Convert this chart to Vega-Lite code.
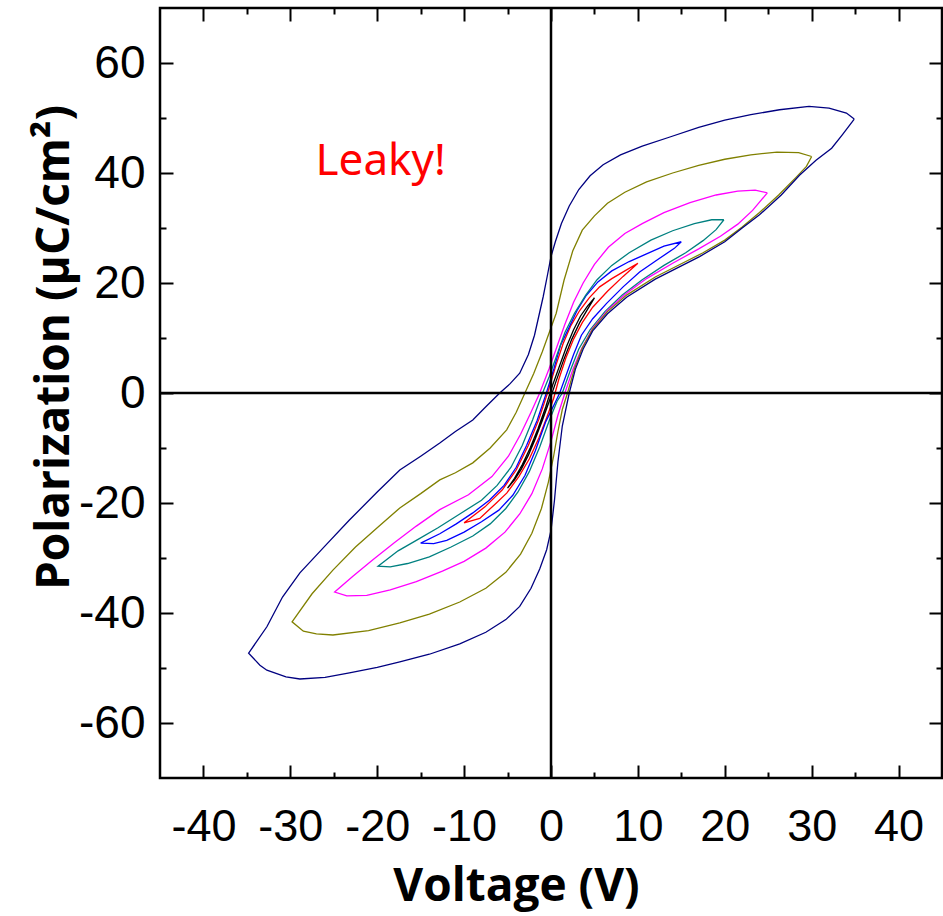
{
  "$schema": "https://vega.github.io/schema/vega-lite/v6.json",
  "width": 782,
  "height": 770,
  "autosize": "none",
  "padding": {"left": 160, "top": 8, "right": 1, "bottom": 138},
  "background": "white",
  "config": {
    "view": {"stroke": "black", "strokeWidth": 2.5},
    "axis": {"domain": false, "grid": false, "ticks": true, "tickColor": "black", "tickWidth": 2, "labelColor": "black", "titleColor": "black", "labelOverlap": false, "labelFlush": false, "labelBound": false}
  },
  "layer": [
    {
      "data": {"values": [
        {"s":"k","v":5,"p":17.3},{"s":"k","v":4.2,"p":15.8},{"s":"k","v":3.4,"p":14},{"s":"k","v":2.6,"p":11.5},{"s":"k","v":1.8,"p":8.5},{"s":"k","v":1,"p":5},{"s":"k","v":0.2,"p":1.5},{"s":"k","v":-0.6,"p":-2.5},{"s":"k","v":-1.5,"p":-6.5},{"s":"k","v":-2.4,"p":-10},{"s":"k","v":-3.3,"p":-13},{"s":"k","v":-4.2,"p":-15.5},{"s":"k","v":-5,"p":-17.3},{"s":"k","v":-4.2,"p":-15.8},{"s":"k","v":-3.4,"p":-13.8},{"s":"k","v":-2.6,"p":-11.3},{"s":"k","v":-1.8,"p":-8.3},{"s":"k","v":-1,"p":-5},{"s":"k","v":-0.2,"p":-1.5},{"s":"k","v":0.6,"p":2.2},{"s":"k","v":1.5,"p":6.2},{"s":"k","v":2.4,"p":9.8},{"s":"k","v":3.3,"p":12.8},{"s":"k","v":4.2,"p":15.2},{"s":"k","v":5,"p":17.3},
        {"s":"r","v":10,"p":23.6},{"s":"r","v":8.5,"p":22.2},{"s":"r","v":7,"p":20.8},{"s":"r","v":5.6,"p":19.3},{"s":"r","v":4.4,"p":17.3},{"s":"r","v":3.3,"p":15},{"s":"r","v":2.3,"p":12.3},{"s":"r","v":1.4,"p":9},{"s":"r","v":0.6,"p":5.2},{"s":"r","v":-0.4,"p":0},{"s":"r","v":-1.4,"p":-4.8},{"s":"r","v":-2.6,"p":-9.5},{"s":"r","v":-4,"p":-14},{"s":"r","v":-5.6,"p":-17.6},{"s":"r","v":-7.6,"p":-20.7},{"s":"r","v":-10,"p":-23.6},{"s":"r","v":-8.2,"p":-22.8},{"s":"r","v":-6.5,"p":-20.3},{"s":"r","v":-5.1,"p":-18.2},{"s":"r","v":-3.7,"p":-15.2},{"s":"r","v":-2.5,"p":-12},{"s":"r","v":-1.4,"p":-8.2},{"s":"r","v":-0.5,"p":-4.5},{"s":"r","v":0.3,"p":-1},{"s":"r","v":0.9,"p":2.5},{"s":"r","v":1.7,"p":6.3},{"s":"r","v":2.6,"p":9.8},{"s":"r","v":3.6,"p":12.8},{"s":"r","v":4.8,"p":15.6},{"s":"r","v":6.5,"p":18.5},{"s":"r","v":8.3,"p":21.2},{"s":"r","v":10,"p":23.6},
        {"s":"b","v":15,"p":27.5},{"s":"b","v":13,"p":26.7},{"s":"b","v":11,"p":25.3},{"s":"b","v":9,"p":23.9},{"s":"b","v":7,"p":22.2},{"s":"b","v":5.4,"p":20.2},{"s":"b","v":4,"p":17.6},{"s":"b","v":3,"p":15},{"s":"b","v":2.1,"p":12},{"s":"b","v":1.1,"p":8.7},{"s":"b","v":0.35,"p":4.5},{"s":"b","v":-0.6,"p":-0.3},{"s":"b","v":-1.6,"p":-5},{"s":"b","v":-2.8,"p":-9.5},{"s":"b","v":-4,"p":-13.5},{"s":"b","v":-5.4,"p":-16.8},{"s":"b","v":-7.1,"p":-19.5},{"s":"b","v":-9,"p":-21.8},{"s":"b","v":-10.9,"p":-23.8},{"s":"b","v":-12.8,"p":-25.6},{"s":"b","v":-15,"p":-27.3},{"s":"b","v":-13.5,"p":-27.4},{"s":"b","v":-12,"p":-26.8},{"s":"b","v":-10,"p":-25.3},{"s":"b","v":-8,"p":-23.4},{"s":"b","v":-6,"p":-21.3},{"s":"b","v":-4.4,"p":-18.6},{"s":"b","v":-3,"p":-15},{"s":"b","v":-1.8,"p":-10.5},{"s":"b","v":-0.6,"p":-5.2},{"s":"b","v":0.4,"p":-2},{"s":"b","v":1,"p":0},{"s":"b","v":1.8,"p":3.5},{"s":"b","v":2.6,"p":7},{"s":"b","v":3.5,"p":10.5},{"s":"b","v":4.8,"p":13.5},{"s":"b","v":6.4,"p":16.3},{"s":"b","v":8.3,"p":19.3},{"s":"b","v":10.2,"p":22},{"s":"b","v":12.5,"p":24.5},{"s":"b","v":14.2,"p":26.3},{"s":"b","v":15,"p":27.5},
        {"s":"t","v":19.9,"p":31.5},{"s":"t","v":18.5,"p":31.5},{"s":"t","v":16.5,"p":30.8},{"s":"t","v":14,"p":29.5},{"s":"t","v":11.5,"p":27.8},{"s":"t","v":9,"p":25.5},{"s":"t","v":7,"p":23.2},{"s":"t","v":5.3,"p":20.6},{"s":"t","v":4,"p":17.8},{"s":"t","v":2.7,"p":14.5},{"s":"t","v":1.6,"p":11},{"s":"t","v":0.7,"p":7},{"s":"t","v":-0.2,"p":3},{"s":"t","v":-1.1,"p":-0.5},{"s":"t","v":-2.1,"p":-4.8},{"s":"t","v":-3.3,"p":-9.5},{"s":"t","v":-4.6,"p":-13.5},{"s":"t","v":-6.2,"p":-16.8},{"s":"t","v":-8,"p":-19.5},{"s":"t","v":-10.5,"p":-22},{"s":"t","v":-13,"p":-24.5},{"s":"t","v":-15.5,"p":-26.8},{"s":"t","v":-17.6,"p":-28.7},{"s":"t","v":-19.9,"p":-31.5},{"s":"t","v":-18.5,"p":-31.6},{"s":"t","v":-16.5,"p":-31},{"s":"t","v":-14,"p":-29.8},{"s":"t","v":-11.5,"p":-28},{"s":"t","v":-9,"p":-26},{"s":"t","v":-7,"p":-23.8},{"s":"t","v":-5.2,"p":-21},{"s":"t","v":-3.8,"p":-18},{"s":"t","v":-2.5,"p":-14.3},{"s":"t","v":-1.3,"p":-9.8},{"s":"t","v":-0.2,"p":-5},{"s":"t","v":0.7,"p":-1.5},{"s":"t","v":1.3,"p":0},{"s":"t","v":2.2,"p":4},{"s":"t","v":3.2,"p":8},{"s":"t","v":4.5,"p":11.5},{"s":"t","v":6.2,"p":14.8},{"s":"t","v":8.2,"p":17.8},{"s":"t","v":10.5,"p":20.6},{"s":"t","v":13,"p":23.2},{"s":"t","v":15.5,"p":25.5},{"s":"t","v":17.5,"p":27.7},{"s":"t","v":19,"p":29.7},{"s":"t","v":19.9,"p":31.5},
        {"s":"m","v":24.9,"p":36.4},{"s":"m","v":23.5,"p":36.9},{"s":"m","v":21.5,"p":36.7},{"s":"m","v":19,"p":36},{"s":"m","v":16,"p":34.6},{"s":"m","v":13,"p":32.8},{"s":"m","v":10.5,"p":30.8},{"s":"m","v":8.5,"p":29},{"s":"m","v":6.6,"p":26.5},{"s":"m","v":5,"p":23.4},{"s":"m","v":3.7,"p":20},{"s":"m","v":2.6,"p":16.5},{"s":"m","v":1.6,"p":12.5},{"s":"m","v":0.7,"p":8.5},{"s":"m","v":-0.2,"p":4.5},{"s":"m","v":-1.3,"p":0},{"s":"m","v":-2.3,"p":-3.5},{"s":"m","v":-3.5,"p":-7.5},{"s":"m","v":-4.9,"p":-11.5},{"s":"m","v":-6.8,"p":-15.2},{"s":"m","v":-9.5,"p":-18.5},{"s":"m","v":-12.8,"p":-21.2},{"s":"m","v":-15.5,"p":-24.2},{"s":"m","v":-18,"p":-27.2},{"s":"m","v":-20.5,"p":-30.3},{"s":"m","v":-22.8,"p":-33.3},{"s":"m","v":-24.9,"p":-36.2},{"s":"m","v":-23.5,"p":-36.9},{"s":"m","v":-21.2,"p":-36.8},{"s":"m","v":-18.5,"p":-35.8},{"s":"m","v":-15.5,"p":-34.3},{"s":"m","v":-12.5,"p":-32.4},{"s":"m","v":-10,"p":-30.6},{"s":"m","v":-7.5,"p":-28.2},{"s":"m","v":-5.3,"p":-25.3},{"s":"m","v":-3.6,"p":-22},{"s":"m","v":-2.2,"p":-18.3},{"s":"m","v":-1,"p":-13.8},{"s":"m","v":0,"p":-8.8},{"s":"m","v":0.8,"p":-4},{"s":"m","v":1.6,"p":0},{"s":"m","v":2.5,"p":4.2},{"s":"m","v":3.5,"p":8},{"s":"m","v":4.8,"p":11.8},{"s":"m","v":6.5,"p":15},{"s":"m","v":8.5,"p":17.9},{"s":"m","v":11,"p":20.8},{"s":"m","v":14,"p":23.6},{"s":"m","v":17,"p":26.2},{"s":"m","v":19.5,"p":28.5},{"s":"m","v":21.5,"p":30.7},{"s":"m","v":23.2,"p":33.2},{"s":"m","v":24.9,"p":36.4},
        {"s":"o","v":30,"p":43},{"s":"o","v":28.5,"p":43.7},{"s":"o","v":26,"p":43.8},{"s":"o","v":23,"p":43.3},{"s":"o","v":20,"p":42.5},{"s":"o","v":17,"p":41.4},{"s":"o","v":14,"p":40},{"s":"o","v":11,"p":38.4},{"s":"o","v":8.5,"p":36.5},{"s":"o","v":6.5,"p":34.5},{"s":"o","v":5,"p":32.2},{"s":"o","v":3.6,"p":29.6},{"s":"o","v":2.5,"p":25.8},{"s":"o","v":1.5,"p":20.5},{"s":"o","v":0.6,"p":14.5},{"s":"o","v":-0.2,"p":11},{"s":"o","v":-1,"p":7.5},{"s":"o","v":-2,"p":3.5},{"s":"o","v":-3,"p":0},{"s":"o","v":-4,"p":-3.5},{"s":"o","v":-5.1,"p":-6.7},{"s":"o","v":-7,"p":-10},{"s":"o","v":-9,"p":-12.7},{"s":"o","v":-11,"p":-14.5},{"s":"o","v":-12.8,"p":-15.8},{"s":"o","v":-15,"p":-18.3},{"s":"o","v":-17.4,"p":-20.9},{"s":"o","v":-20,"p":-24.5},{"s":"o","v":-22.5,"p":-28},{"s":"o","v":-25.1,"p":-32.2},{"s":"o","v":-27.5,"p":-36.5},{"s":"o","v":-29.8,"p":-41.6},{"s":"o","v":-28.5,"p":-43.3},{"s":"o","v":-27,"p":-43.8},{"s":"o","v":-25.1,"p":-44},{"s":"o","v":-21,"p":-43.2},{"s":"o","v":-17.4,"p":-41.8},{"s":"o","v":-14,"p":-40.2},{"s":"o","v":-10.5,"p":-38},{"s":"o","v":-7.5,"p":-35.5},{"s":"o","v":-5.2,"p":-32.6},{"s":"o","v":-3.5,"p":-29.3},{"s":"o","v":-2.2,"p":-25.5},{"s":"o","v":-1.1,"p":-21},{"s":"o","v":-0.3,"p":-16.2},{"s":"o","v":0.3,"p":-11.5},{"s":"o","v":0.8,"p":-7},{"s":"o","v":1.3,"p":-3},{"s":"o","v":1.9,"p":0},{"s":"o","v":2.7,"p":4.4},{"s":"o","v":3.6,"p":8.2},{"s":"o","v":4.8,"p":11.6},{"s":"o","v":6.5,"p":14.8},{"s":"o","v":8.7,"p":17.8},{"s":"o","v":12,"p":21.1},{"s":"o","v":15,"p":23.5},{"s":"o","v":17.5,"p":25.5},{"s":"o","v":20,"p":27.8},{"s":"o","v":22,"p":30.2},{"s":"o","v":24,"p":32.8},{"s":"o","v":26.2,"p":36},{"s":"o","v":28.2,"p":39.2},{"s":"o","v":29.4,"p":41.2},{"s":"o","v":30,"p":43},
        {"s":"n","v":34.9,"p":49.8},{"s":"n","v":34,"p":50.9},{"s":"n","v":32,"p":51.8},{"s":"n","v":29.7,"p":52.1},{"s":"n","v":26.3,"p":51.5},{"s":"n","v":23,"p":50.6},{"s":"n","v":20,"p":49.6},{"s":"n","v":17,"p":48.3},{"s":"n","v":13.6,"p":46.5},{"s":"n","v":10.5,"p":44.9},{"s":"n","v":8,"p":43.3},{"s":"n","v":6,"p":41.5},{"s":"n","v":4.5,"p":39.5},{"s":"n","v":3.2,"p":37},{"s":"n","v":2.1,"p":34},{"s":"n","v":1.2,"p":30.8},{"s":"n","v":0.5,"p":27.5},{"s":"n","v":0,"p":24.8},{"s":"n","v":-0.4,"p":21.5},{"s":"n","v":-0.9,"p":17.5},{"s":"n","v":-1.4,"p":14},{"s":"n","v":-1.9,"p":10.5},{"s":"n","v":-2.6,"p":7},{"s":"n","v":-3.6,"p":3.6},{"s":"n","v":-4.7,"p":1.7},{"s":"n","v":-5.9,"p":0},{"s":"n","v":-7.5,"p":-2.5},{"s":"n","v":-9,"p":-4.9},{"s":"n","v":-11,"p":-7},{"s":"n","v":-12.8,"p":-9.1},{"s":"n","v":-15,"p":-11.5},{"s":"n","v":-17.4,"p":-14},{"s":"n","v":-20,"p":-18},{"s":"n","v":-23.2,"p":-23.1},{"s":"n","v":-26,"p":-27.8},{"s":"n","v":-28.9,"p":-32.7},{"s":"n","v":-30.9,"p":-37.1},{"s":"n","v":-32.7,"p":-42.5},{"s":"n","v":-34.8,"p":-47.3},{"s":"n","v":-33.5,"p":-49.5},{"s":"n","v":-32.7,"p":-50.4},{"s":"n","v":-30.5,"p":-51.6},{"s":"n","v":-28.9,"p":-52},{"s":"n","v":-26,"p":-51.7},{"s":"n","v":-23.2,"p":-50.9},{"s":"n","v":-20,"p":-49.9},{"s":"n","v":-17.4,"p":-48.9},{"s":"n","v":-14,"p":-47.5},{"s":"n","v":-10.5,"p":-45.6},{"s":"n","v":-7.5,"p":-43.5},{"s":"n","v":-5.2,"p":-41.2},{"s":"n","v":-3.6,"p":-38.8},{"s":"n","v":-2.3,"p":-35.5},{"s":"n","v":-1.3,"p":-32},{"s":"n","v":-0.5,"p":-28.5},{"s":"n","v":0,"p":-25},{"s":"n","v":0.4,"p":-19.5},{"s":"n","v":0.8,"p":-12.5},{"s":"n","v":1.3,"p":-6},{"s":"n","v":2.1,"p":0},{"s":"n","v":2.8,"p":4.3},{"s":"n","v":3.7,"p":8},{"s":"n","v":4.8,"p":11.3},{"s":"n","v":6.5,"p":14.4},{"s":"n","v":8.7,"p":17.4},{"s":"n","v":12,"p":20.7},{"s":"n","v":15,"p":23.1},{"s":"n","v":17.1,"p":24.8},{"s":"n","v":20,"p":27.5},{"s":"n","v":22,"p":30},{"s":"n","v":24,"p":32.4},{"s":"n","v":26.5,"p":36},{"s":"n","v":28.6,"p":39.6},{"s":"n","v":30.5,"p":42.3},{"s":"n","v":32.3,"p":44.5},{"s":"n","v":33.5,"p":46.9},{"s":"n","v":34.9,"p":49.8}
      ]},
      "transform": [{"window": [{"op": "row_number", "as": "i"}]}],
      "mark": {"type": "line", "strokeWidth": 1.3},
      "encoding": {
        "x": {"field": "v", "type": "quantitative",
          "scale": {"domain": [-45, 45], "nice": false, "zero": false},
          "axis": {"orient": "bottom", "values": [-40,-30,-20,-10,0,10,20,30,40], "tickSize": -13,
            "labelExpr": "'' + datum.value",
            "labelFont": "Liberation Sans, Arial, sans-serif", "labelFontSize": 45, "labelPadding": 39,
            "title": "Voltage (V)", "titleFont": "Open Sans", "titleFontSize": 46, "titleFontWeight": "bold",
            "titleX": 356, "titleY": 122, "titleBaseline": "alphabetic", "titleAlign": "center"}},
        "y": {"field": "p", "type": "quantitative",
          "scale": {"domain": [-70, 70], "nice": false, "zero": false},
          "axis": {"orient": "left", "values": [-60,-40,-20,0,20,40,60], "tickSize": -13,
            "labelExpr": "'' + datum.value",
            "labelFont": "Liberation Sans, Arial, sans-serif", "labelFontSize": 46, "labelPadding": 28,
            "title": "Polarization (μC/cm²)", "titleFont": "Open Sans", "titleFontSize": 46, "titleFontWeight": "bold",
            "titleX": -92, "titleY": 339, "titleBaseline": "alphabetic", "titleAlign": "center", "titleAngle": -90}},
        "color": {"field": "s", "type": "nominal",
          "scale": {"domain": ["k","r","b","t","m","o","n"], "range": ["#000000","#ff0000","#0000ff","#008080","#ff00ff","#808000","#000080"]},
          "legend": null},
        "order": {"field": "i", "type": "quantitative"}
      }
    },
    {
      "data": {"values": [{}]},
      "mark": {"type": "rule", "strokeWidth": 2.5, "color": "black"},
      "encoding": {"x": {"datum": 0, "type": "quantitative", "axis": null}}
    },
    {
      "data": {"values": [{}]},
      "mark": {"type": "rule", "strokeWidth": 2.5, "color": "black"},
      "encoding": {"y": {"datum": 0, "type": "quantitative", "axis": null}}
    },
    {
      "data": {"values": [{}]},
      "mark": {"type": "text", "text": "Leaky!", "color": "#ff0000", "font": "Noto Sans", "fontSize": 44, "align": "center", "baseline": "alphabetic"},
      "encoding": {
        "x": {"datum": -19.6, "type": "quantitative",
          "axis": {"orient": "top", "values": [-40,-30,-20,-10,0,10,20,30,40], "tickSize": -13, "labels": false, "title": null}},
        "y": {"datum": 39.6, "type": "quantitative",
          "axis": {"orient": "right", "values": [-60,-40,-20,0,20,40,60], "tickSize": -13, "labels": false, "title": null}}
      }
    },
    {
      "data": {"values": [{}]},
      "mark": {"type": "text", "text": "", "opacity": 0},
      "encoding": {
        "x": {"datum": 0, "type": "quantitative",
          "axis": {"orient": "bottom", "values": [-35,-25,-15,-5,5,15,25,35], "tickSize": -6, "labels": false, "title": null}},
        "y": {"datum": 0, "type": "quantitative",
          "axis": {"orient": "left", "values": [-50,-30,-10,10,30,50], "tickSize": -6, "labels": false, "title": null}}
      }
    },
    {
      "data": {"values": [{}]},
      "mark": {"type": "text", "text": "", "opacity": 0},
      "encoding": {
        "x": {"datum": 0, "type": "quantitative",
          "axis": {"orient": "top", "values": [-35,-25,-15,-5,5,15,25,35], "tickSize": -6, "labels": false, "title": null}},
        "y": {"datum": 0, "type": "quantitative",
          "axis": {"orient": "right", "values": [-50,-30,-10,10,30,50], "tickSize": -6, "labels": false, "title": null}}
      }
    }
  ],
  "resolve": {"axis": {"x": "independent", "y": "independent"}}
}
